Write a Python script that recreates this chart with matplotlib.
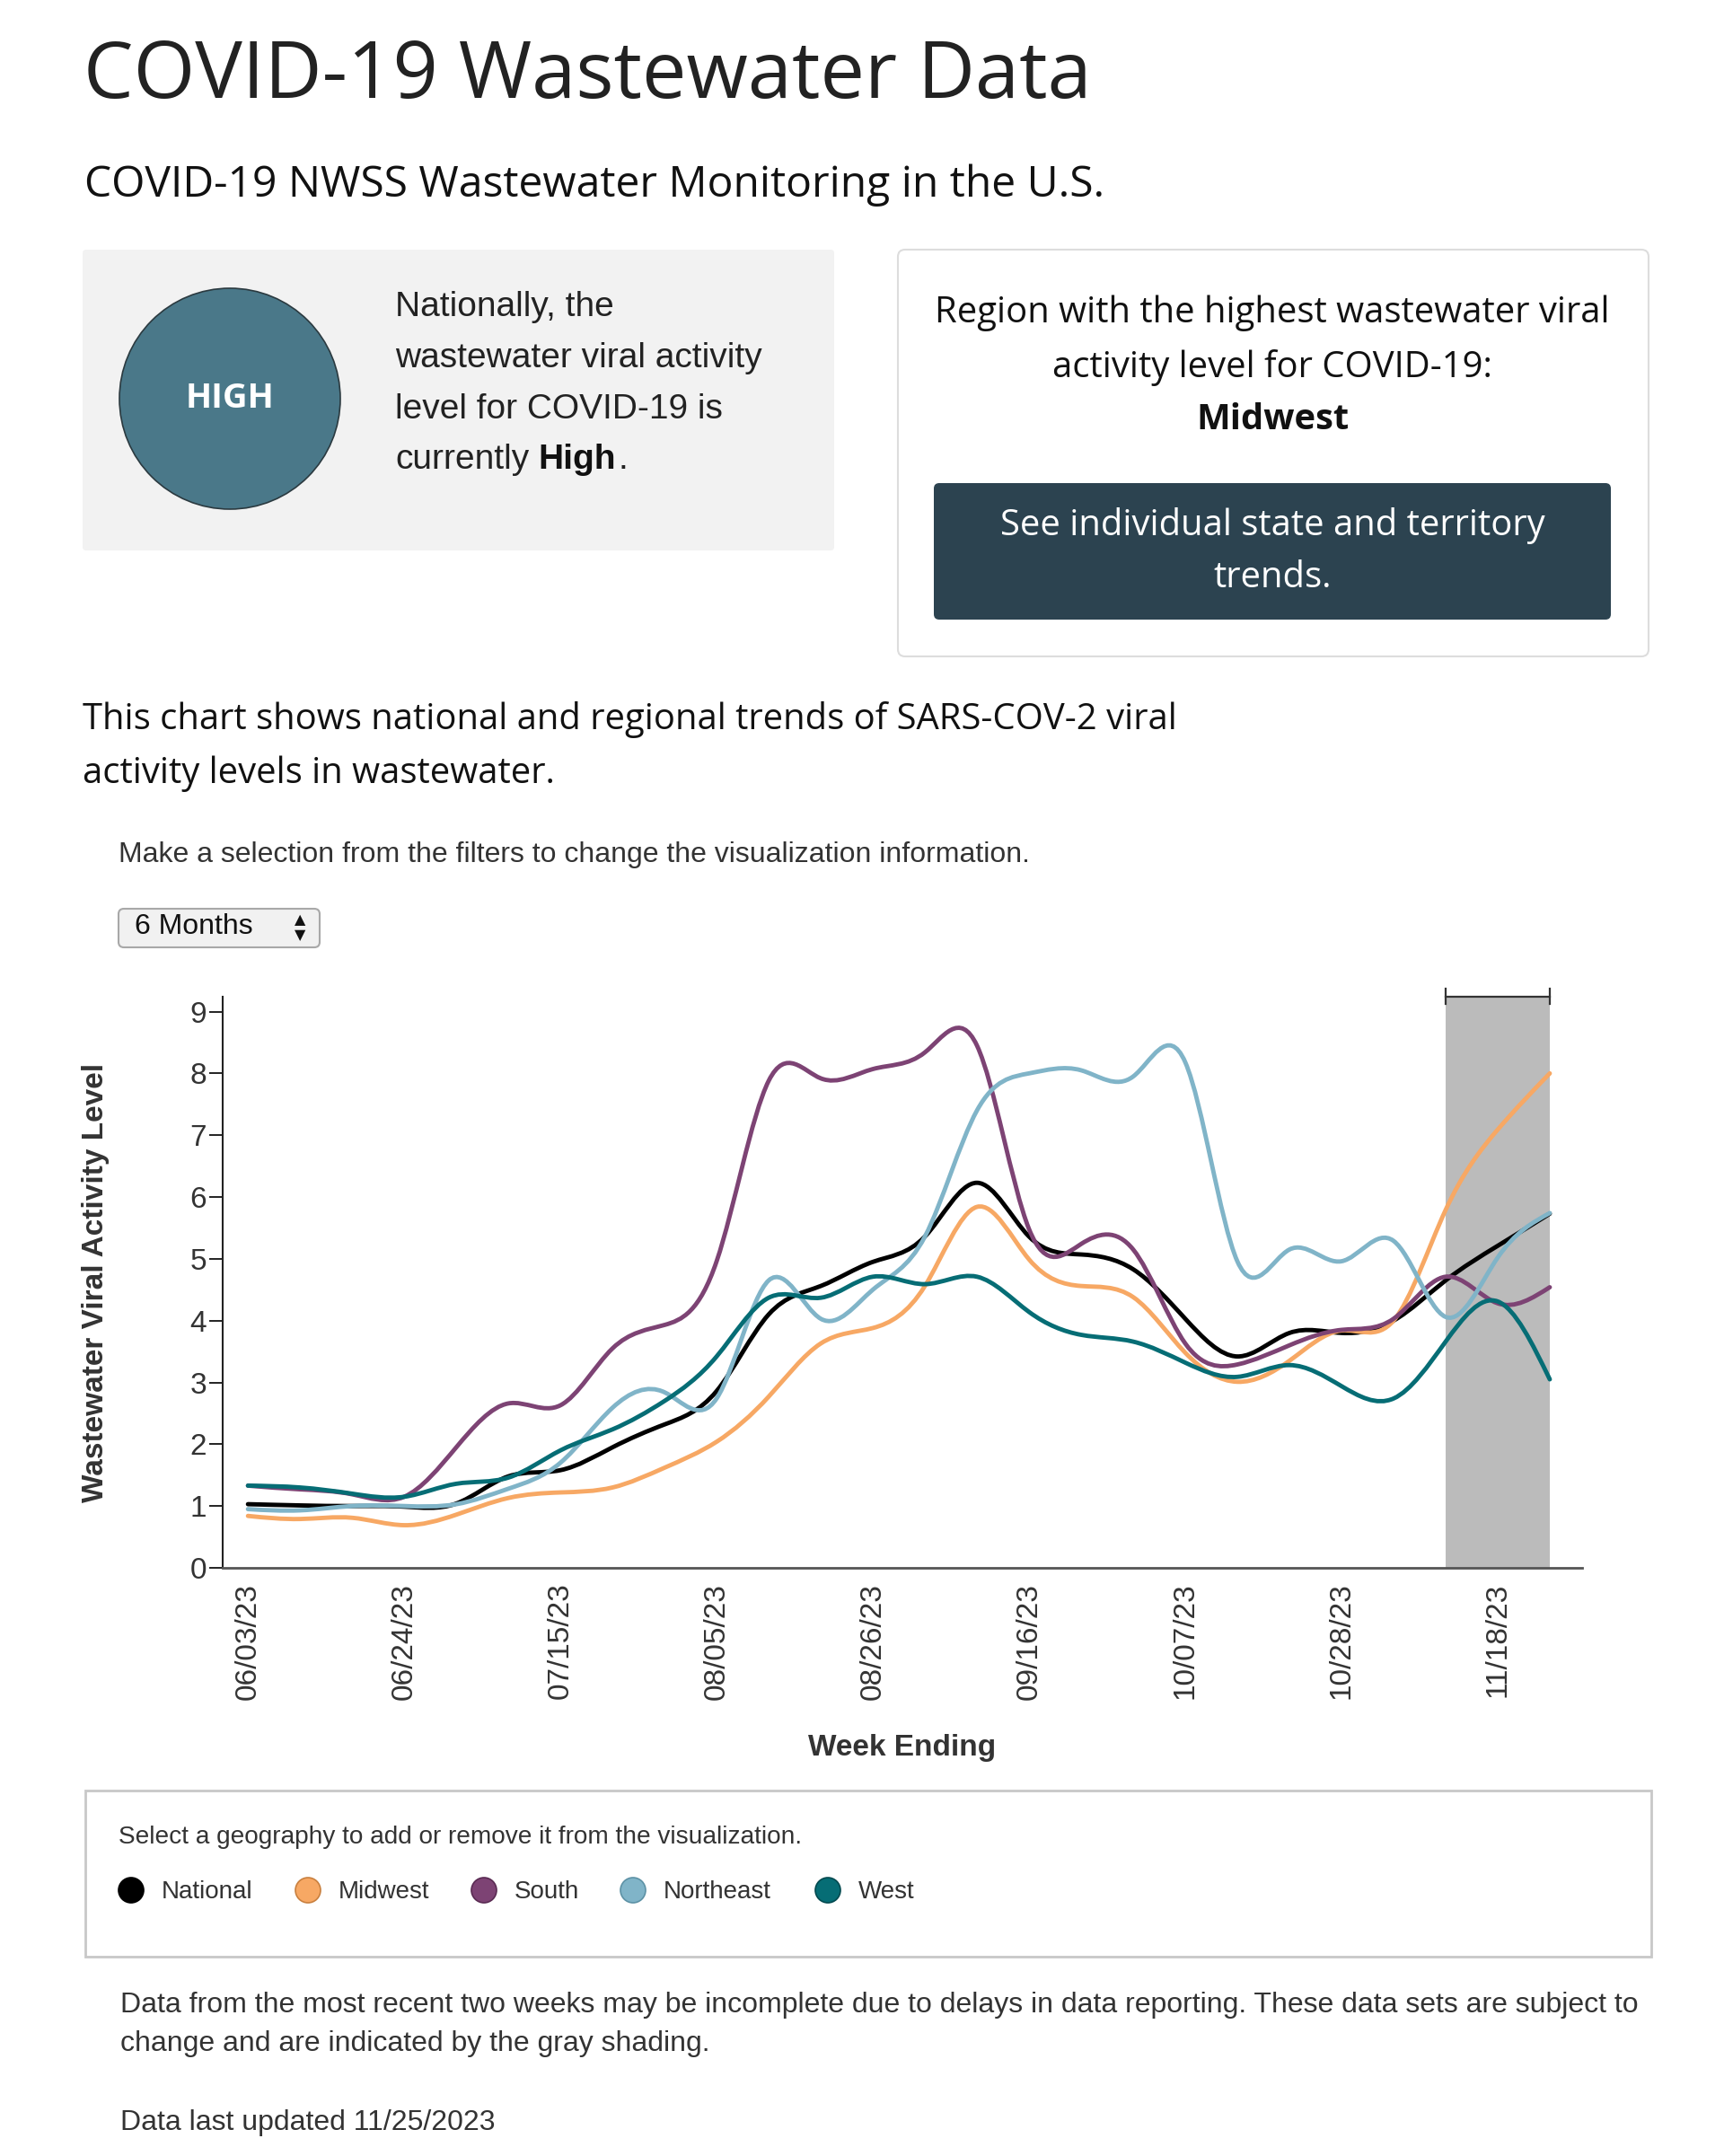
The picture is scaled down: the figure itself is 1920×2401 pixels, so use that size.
import numpy as np
import pandas as pd
import matplotlib
matplotlib.use("Agg")
import matplotlib.pyplot as plt
import matplotlib.dates as mdates
from matplotlib.path import Path
from matplotlib.patches import PathPatch, Circle, FancyBboxPatch, Rectangle

# ---------------- data ----------------
week_start = "2023-06-03"
n_weeks = 26
national = [1.03, 1.01, 1.00, 0.99, 1.04, 1.48, 1.58, 1.95, 2.32, 2.86, 4.10, 4.56, 4.95,
            5.36, 6.23, 5.36, 5.07, 4.83, 4.03, 3.42, 3.80, 3.80, 4.00, 4.65, 5.21, 5.73]
midwest = [0.84, 0.79, 0.81, 0.69, 0.86, 1.13, 1.22, 1.30, 1.62, 2.04, 2.77, 3.63, 3.88,
           4.56, 5.84, 4.99, 4.56, 4.38, 3.48, 3.01, 3.35, 3.84, 4.00, 5.79, 7.09, 8.00]
south = [1.33, 1.27, 1.19, 1.15, 1.95, 2.66, 2.63, 3.55, 3.93, 4.96, 7.88, 7.92, 8.07,
         8.34, 8.45, 5.48, 5.24, 5.15, 3.63, 3.29, 3.60, 3.85, 4.03, 4.71, 4.28, 4.54]
northeast = [0.95, 0.93, 1.00, 1.00, 1.03, 1.28, 1.70, 2.59, 2.84, 2.74, 4.65, 4.03, 4.50,
             5.36, 7.40, 8.00, 8.05, 7.95, 8.18, 4.96, 5.15, 4.96, 5.29, 4.06, 5.02, 5.74]
west = [1.33, 1.30, 1.20, 1.15, 1.36, 1.46, 1.90, 2.24, 2.70, 3.42, 4.37, 4.37, 4.71,
        4.59, 4.71, 4.14, 3.77, 3.66, 3.32, 3.09, 3.28, 2.94, 2.74, 3.66, 4.31, 3.05]
series_names = ["National", "Midwest", "South", "Northeast", "West"]
series_vals = [national, midwest, south, northeast, west]
series_colors = ["#000000", "#F7A864", "#7D4374", "#80B4C8", "#066D75"]
series_edges = ["#000000", "#C9803F", "#5A2B53", "#5D92A6", "#034A50"]
incomplete_start = "2023-11-11"
incomplete_end = "2023-11-25"
y_ticks = list(range(0, 10))

dates = pd.date_range(week_start, periods=n_weeks, freq="7D")
tick_dates = dates[::3]

# ---------------- helpers ----------------
W, H = 1920, 2401
fig = plt.figure(figsize=(W / 100, H / 100), dpi=100)
bg = fig.add_axes([0, 0, 1, 1])
bg.set_xlim(0, W)
bg.set_ylim(H, 0)
bg.axis("off")

OPEN = ["Open Sans", "DejaVu Sans"]
ARIAL = ["Liberation Sans", "DejaVu Sans"]


def txt(x, y, s, size, family=ARIAL, weight="normal", color="#222222", ha="left", va="center", **kw):
    bg.text(x, y, s, fontsize=size, family=family, weight=weight, color=color, ha=ha, va=va, **kw)


def natural_path(x, y):
    x = np.asarray(x, float)
    y = np.asarray(y, float)
    n = len(x) - 1
    h = np.diff(x)
    A = np.zeros((n + 1, n + 1))
    b = np.zeros(n + 1)
    A[0, 0] = 1
    A[n, n] = 1
    for i in range(1, n):
        A[i, i - 1] = h[i - 1]
        A[i, i] = 2 * (h[i - 1] + h[i])
        A[i, i + 1] = h[i]
        b[i] = 6 * ((y[i + 1] - y[i]) / h[i] - (y[i] - y[i - 1]) / h[i - 1])
    M = np.linalg.solve(A, b)
    m = np.zeros(n + 1)
    for i in range(n):
        m[i] = (y[i + 1] - y[i]) / h[i] - h[i] * (2 * M[i] + M[i + 1]) / 6
    m[n] = (y[n] - y[n - 1]) / h[n - 1] + h[n - 1] * (M[n - 1] + 2 * M[n]) / 6
    verts = [(x[0], y[0])]
    codes = [Path.MOVETO]
    for i in range(n):
        hh = h[i]
        verts += [(x[i] + hh / 3, y[i] + m[i] * hh / 3),
                  (x[i + 1] - hh / 3, y[i + 1] - m[i + 1] * hh / 3),
                  (x[i + 1], y[i + 1])]
        codes += [Path.CURVE4] * 3
    return Path(verts, codes)


# ---------------- header ----------------
txt(93, 86, "COVID-19 Wastewater Data", 63.5, OPEN, color="#222222")
txt(94, 206, "COVID-19 NWSS Wastewater Monitoring in the U.S.", 34.6, OPEN, color="#111111")

# left box
bg.add_patch(FancyBboxPatch((92, 278), 837, 335, boxstyle="round,pad=0,rounding_size=4",
                            fc="#F2F2F2", ec="none"))
bg.add_patch(Circle((256, 444), 123, fc="#4A7889", ec="#2B3A40", lw=1.2))
txt(256, 444, "HIGH", 27.5, OPEN, weight="bold", color="white", ha="center")
txt(440, 342, "Nationally, the", 28, ARIAL, color="#222222")
txt(440, 399, "wastewater viral activity", 28, ARIAL, color="#222222")
txt(440, 456, "level for COVID-19 is", 28, ARIAL, color="#222222")
txt(440, 512, "currently", 28, ARIAL, color="#222222")
txt(599, 512, "High", 28, ARIAL, weight="bold", color="#111111")
txt(688, 512, ".", 28, ARIAL, color="#222222")

# right box
bg.add_patch(FancyBboxPatch((1000, 278), 836, 453, boxstyle="round,pad=0,rounding_size=8",
                            fc="white", ec="#DDDDDD", lw=1.5))
txt(1417, 349, "Region with the highest wastewater viral", 28.8, OPEN, ha="center", color="#111111")
txt(1417, 409, "activity level for COVID-19:", 28.8, OPEN, ha="center", color="#111111")
txt(1417, 468, "Midwest", 28.8, OPEN, weight="bold", ha="center", color="#111111")
bg.add_patch(FancyBboxPatch((1040, 538), 754, 152, boxstyle="round,pad=0,rounding_size=6",
                            fc="#2C4350", ec="none"))
txt(1417, 585, "See individual state and territory", 28.8, OPEN, ha="center", color="white")
txt(1417, 644, "trends.", 28.8, OPEN, ha="center", color="white")

# paragraph
txt(92, 802, "This chart shows national and regional trends of SARS-COV-2 viral", 28.8, OPEN, color="#111111")
txt(92, 862, "activity levels in wastewater.", 28.8, OPEN, color="#111111")
txt(132, 952, "Make a selection from the filters to change the visualization information.", 23, ARIAL,
    color="#333333")

# dropdown
bg.add_patch(FancyBboxPatch((132, 1012), 224, 43, boxstyle="round,pad=0,rounding_size=6",
                            fc="#F1F1F1", ec="#A8A8A8", lw=1.5))
txt(150, 1032, "6 Months", 23, ARIAL, color="#111111")
txt(334, 1025, "▲", 11.5, ["DejaVu Sans"], ha="center", color="#111111")
txt(334, 1042, "▼", 11.5, ["DejaVu Sans"], ha="center", color="#111111")

# ---------------- chart ----------------
ax_left, ax_right, ax_top, ax_bot = 248, 1762, 1110, 1746
ax = fig.add_axes([ax_left / W, 1 - ax_bot / H, (ax_right - ax_left) / W, (ax_bot - ax_top) / H])
ax.patch.set_alpha(0)
x0 = mdates.date2num(dates[0]) - 3.4
x1 = mdates.date2num(dates[-1]) + 4.35
ax.set_xlim(x0, x1)
ax.set_ylim(0, 9.24)

ax.axvspan(pd.Timestamp(incomplete_start), pd.Timestamp(incomplete_end), ymin=0, ymax=1,
           fc="#BBBBBB", ec="none", zorder=1)
# bracket above the shaded region
bx0 = mdates.date2num(pd.Timestamp(incomplete_start))
bx1 = mdates.date2num(pd.Timestamp(incomplete_end))
ax.plot([bx0, bx1], [9.24, 9.24], color="#333333", lw=1.6, clip_on=False, zorder=5)
for bxx in (bx0, bx1):
    ax.plot([bxx, bxx], [9.13, 9.37], color="#333333", lw=1.6, clip_on=False, zorder=5)

xnum = mdates.date2num(dates)
for vals, col in zip(series_vals, series_colors):
    p = natural_path(xnum, vals)
    ax.add_patch(PathPatch(p, fc="none", ec=col, lw=3.5, capstyle="round", joinstyle="round", zorder=3))

for s in ["top", "right"]:
    ax.spines[s].set_visible(False)
ax.spines["left"].set_color("#222222")
ax.spines["left"].set_linewidth(1.5)
ax.spines["bottom"].set_color("#555555")
ax.spines["bottom"].set_linewidth(2.0)

ax.set_yticks(y_ticks)
ax.set_yticklabels([str(v) for v in y_ticks], family=ARIAL, fontsize=24, color="#333333")
ax.tick_params(axis="y", length=11, width=1.4, color="#222222", pad=2)
ax.set_xticks(mdates.date2num(tick_dates))
ax.set_xticklabels([d.strftime("%m/%d/%y") for d in tick_dates], rotation=90, family=ARIAL,
                   fontsize=24, color="#333333", va="top", ha="center")
ax.tick_params(axis="x", length=0, pad=12)
ax.set_ylabel("Wastewater Viral Activity Level", family=ARIAL, fontsize=24, weight="bold",
              color="#333333", labelpad=64)
ax.set_xlabel("Week Ending", family=ARIAL, fontsize=24, weight="bold", color="#333333", labelpad=28)

# ---------------- legend ----------------
bg.add_patch(Rectangle((95, 1994), 1744, 185, fc="white", ec="#C8C8C8", lw=2))
txt(132, 2046, "Select a geography to add or remove it from the visualization.", 20.2, ARIAL, color="#333333")
leg_x = [146, 343, 539, 705, 922]
for lx, name, col, ecol in zip(leg_x, series_names, series_colors, series_edges):
    bg.add_patch(Circle((lx, 2105), 14, fc=col, ec=ecol, lw=1.2))
    txt(lx + 34, 2107, name, 20, ARIAL, color="#333333")

# ---------------- footnotes ----------------
txt(134, 2233, "Data from the most recent two weeks may be incomplete due to delays in data reporting. "
    "These data sets are subject to", 23, ARIAL, color="#333333")
txt(134, 2276, "change and are indicated by the gray shading.", 23, ARIAL, color="#333333")
txt(134, 2364, "Data last updated 11/25/2023", 23, ARIAL, color="#333333")

fig.savefig("out.png", dpi=100, facecolor="white")
